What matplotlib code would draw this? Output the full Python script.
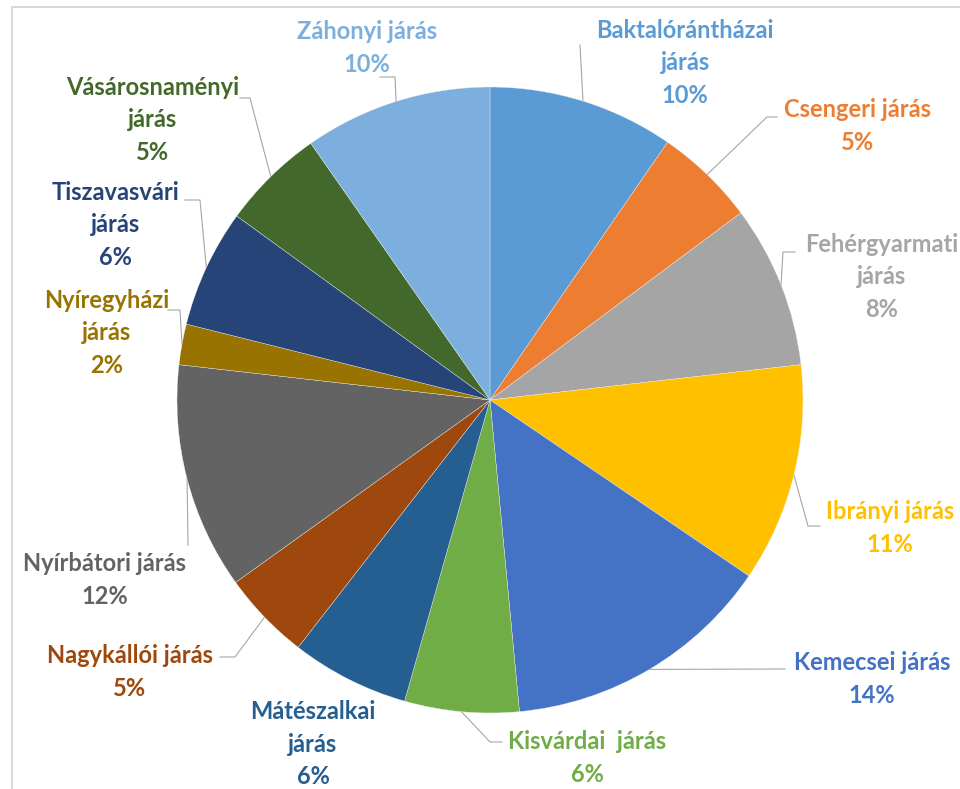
import numpy as np
import matplotlib
matplotlib.use("Agg")
import matplotlib.pyplot as plt
from matplotlib.patches import Rectangle

# ---------------- adatok ---------------- #
jarasok = ["Baktalórántházai\njárás", "Csengeri járás", "Fehérgyarmati\njárás",
           "Ibrányi járás", "Kemecsei járás", "Kisvárdai  járás",
           "Mátészalkai\njárás", "Nagykállói járás", "Nyírbátori járás",
           "Nyíregyházi\njárás", "Tiszavasvári\njárás", "Vásárosnaményi\njárás",
           "Záhonyi járás"]
aranyok = [9.6, 5.2, 8.4, 11.3, 14.0, 5.9, 6.1, 4.6, 11.7, 2.1, 6.1, 5.3, 9.7]
szinek = ["#5B9BD5", "#ED7D31", "#A5A5A5", "#FFC000", "#4472C4", "#70AD47",
          "#255E91", "#9E480E", "#636363", "#997300", "#264478", "#43682B",
          "#7CAFDD"]

# címkék helye pixelben (középpont) és a vezetővonal töréspontjai
cimke_hely = [(685, 63), (857, 126), (882, 277), (890, 528), (872, 679),
              (587, 758), (313, 744), (130, 672), (105, 580), (107, 333),
              (115, 225), (153, 120), (367, 48)]
vezeto = [[(580, 45)], [(767, 117), (777, 117)], [(783, 252), (795, 252)],
          [(808, 526), (820, 526)], [(785, 669)], [(490, 742), (502, 742)],
          None, [(235, 657), (220, 657)], [(188, 545)],
          [(180, 310), (168, 310)], [(200, 200), (185, 200)],
          [(250, 98), (240, 98)], [(395, 77), (380, 77)]]

W, H = 960, 789
CX, CY, R = 490, 400, 313


def px(p):
    # pixel -> adat koordináta (sugár = 1)
    return ((p[0] - CX) / R, (CY - p[1]) / R)


fig = plt.figure(figsize=(W / 100, H / 100), dpi=100)
ax = fig.add_axes([0, 0, 1, 1])
ax.axis("off")

wedges, _ = ax.pie(aranyok, colors=szinek, startangle=90, counterclock=False,
                   radius=1, wedgeprops=dict(edgecolor="#F2F2F2", linewidth=0.25))
ax.set_aspect("auto")
ax.set_xlim(-CX / R, (W - CX) / R)
ax.set_ylim((CY - H) / R, CY / R)

osszeg = sum(aranyok)
for w, nev, ert, szin, hely, pontok in zip(wedges, jarasok, aranyok, szinek,
                                           cimke_hely, vezeto):
    szoveg = f"{nev}\n{round(ert / osszeg * 100):d}%"
    x, y = px(hely)
    ax.text(x, y, szoveg, ha="center", va="center", color=szin,
            fontsize=17, fontweight="bold", family="Lato", linespacing=1.5,
            clip_on=False)
    if pontok:
        kozep = np.deg2rad((w.theta1 + w.theta2) / 2)
        xs = [np.cos(kozep)] + [px(p)[0] for p in pontok]
        ys = [np.sin(kozep)] + [px(p)[1] for p in pontok]
        ax.plot(xs, ys, color="#A6A6A6", lw=0.8, zorder=0)

# keret
fig.patches.append(Rectangle((12 / W, -0.1), 1.2, (H - 7) / H + 0.1,
                             transform=fig.transFigure, fill=False,
                             edgecolor="#D9D9D9", lw=1.5))

fig.savefig("out.png", dpi=100)
